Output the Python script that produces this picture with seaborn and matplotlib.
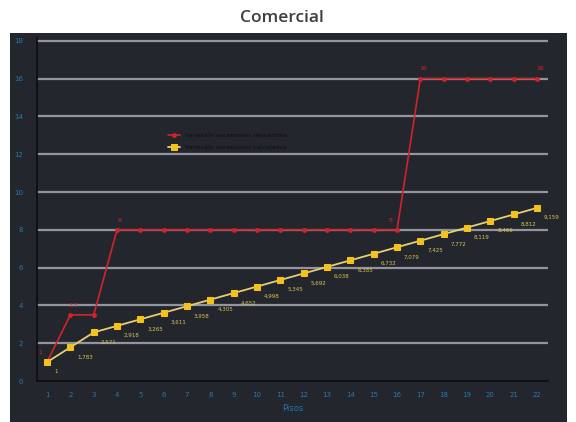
import matplotlib
matplotlib.use("Agg")
import matplotlib.pyplot as plt
from matplotlib.patches import Rectangle
import seaborn as sns
import pandas as pd

# Floors and the two series
pisos = list(range(1, 23))
serie_roja = [1, 3.5, 3.5, 8, 8, 8, 8, 8, 8, 8, 8, 8, 8, 8, 8, 8, 16, 16, 16, 16, 16, 16]
serie_amarilla = [1, 1.783, 2.571, 2.918, 3.265, 3.611, 3.958, 4.305, 4.652, 4.998, 5.345,
                  5.692, 6.038, 6.385, 6.732, 7.079, 7.425, 7.772, 8.119, 8.466, 8.812, 9.159]
nombres = ["Variación ascensores requeridos", "Variación ascensores calculados"]
# Points of the red series that carry a value label
etiquetas_rojas = {1: "1", 2: "3,5", 4: "8", 16: "8", 17: "16", 22: "16"}

y_ticks = list(range(0, 20, 2))

sns.set_theme(style="dark")
plt.rcParams["font.family"] = ["DejaVu Sans"]

bg = "#24262d"
fig = plt.figure(figsize=(5.76, 4.22), dpi=100)
fig.patch.set_facecolor("white")
fig.patches.append(Rectangle((10 / 576, 0), 557 / 576, 389 / 422, transform=fig.transFigure,
                             facecolor=bg, edgecolor="none", zorder=-5))

ax = fig.add_axes([37 / 576, 41 / 422, 511 / 576, 343 / 422])
ax.set_zorder(2)
ax.set_facecolor(bg)

df = pd.DataFrame({"Pisos": pisos * 2,
                   "valor": serie_roja + serie_amarilla,
                   "serie": [nombres[0]] * len(pisos) + [nombres[1]] * len(pisos)})

for yv in y_ticks[1:]:
    ax.axhline(yv, color="#92959d", lw=1.6, zorder=1)

sns.lineplot(data=df[df.serie == nombres[0]], x="Pisos", y="valor", ax=ax,
             color="#d2232a", lw=1.2, marker="o", markersize=3.5, markeredgewidth=0,
             label=nombres[0], zorder=3)
sns.lineplot(data=df[df.serie == nombres[1]], x="Pisos", y="valor", ax=ax,
             color="#e6cf73", lw=1.3, marker="s", markersize=4.5,
             markerfacecolor="#f4c21b", markeredgecolor="#f4c21b",
             label=nombres[1], zorder=4)

# value labels
for x, v in zip(pisos, serie_amarilla):
    txt = "1" if v == 1 else f"{v:.3f}".replace(".", ",")
    ax.annotate(txt, (x, v), xytext=(5, -7), textcoords="offset points",
                fontsize=4, color="#d9c455", ha="left", va="center", zorder=5)
for x, txt in etiquetas_rojas.items():
    v = serie_roja[x - 1]
    if x in (1, 16):
        off = (-5, 7)
    else:
        off = (2, 7)
    ax.annotate(txt, (x, v), xytext=off, textcoords="offset points",
                fontsize=4.5, color="#d2232a", ha="center", va="center", zorder=5)

ax.set_xlim(0.57, 22.47)
ax.set_ylim(0, 18.15)
ax.set_xticks(pisos)
ax.set_yticks(y_ticks)
ax.tick_params(axis="both", colors="#2478b0", labelsize=5, length=2)
ax.tick_params(axis="x", colors="#111111", labelcolor="#2478b0", direction="in", pad=8)
ax.tick_params(axis="y", length=0, pad=10)
ax.set_xlabel("Pisos", color="#2478b0", fontsize=6, labelpad=4)
ax.set_ylabel("")
ax.grid(False)
for s in ["top", "right"]:
    ax.spines[s].set_visible(False)
for s in ["left", "bottom"]:
    ax.spines[s].set_visible(True)
    ax.spines[s].set_color("#0d0d0f")
    ax.spines[s].set_linewidth(1.2)

leg = ax.legend(loc="upper left", bbox_to_anchor=(0.245, 0.74), frameon=False,
                fontsize=4.5, handlelength=2.0, labelspacing=1.0)
for t in leg.get_texts():
    t.set_color("#0e0e10")

fig.text(0.49, 0.958, "Comercial", ha="center", va="center", fontsize=12.5,
         fontweight="semibold", color="#3d3d3d", family=["Open Sans", "DejaVu Sans"])

fig.savefig("out.png", dpi=100, facecolor="white")
